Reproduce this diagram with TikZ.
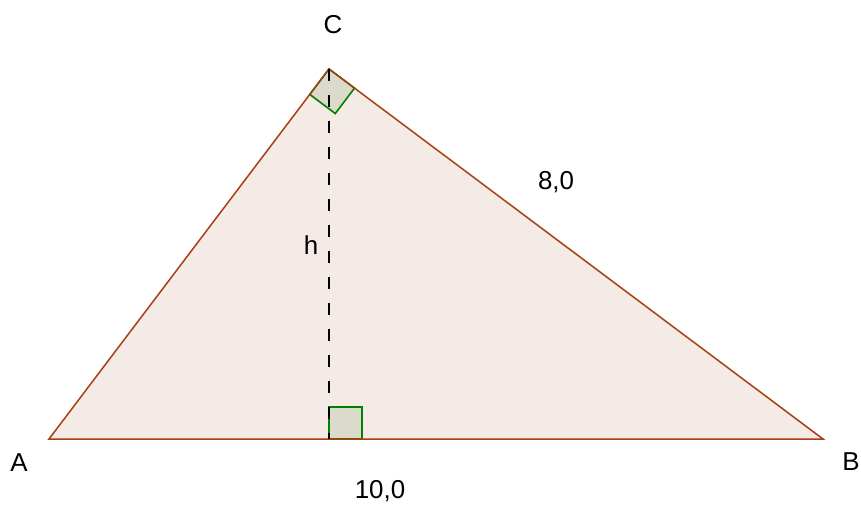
\documentclass[tikz,border=0pt]{standalone}
\usepackage{fontspec}
\setmainfont{Liberation Sans}
\usetikzlibrary{calc}
\definecolor{edgebrown}{RGB}{166,64,20}
\definecolor{trifill}{RGB}{244,234,230}
\definecolor{angfill}{RGB}{218,219,203}
\definecolor{anggreen}{RGB}{0,128,0}
\tikzset{
  lbl/.style={inner sep=0pt, font=\fontsize{26}{30}\selectfont},
  edge/.style={draw=edgebrown, line width=1.5bp, line join=miter},
  angmark/.style={fill=angfill, draw=anggreen, line width=1.6bp},
  height/.style={draw=black, line width=1.5bp, dash pattern=on 12bp off 14bp}
}
\begin{document}
\begin{tikzpicture}[x=1bp,y=-1bp]
\useasboundingbox (0,0) rectangle (861,507);
\coordinate (A) at (49,439);
\coordinate (B) at (823,439);
\coordinate (C) at (329,69);
\coordinate (H) at (329,439);
% fill
\fill[trifill] (A) -- (B) -- (C) -- cycle;
% right angle at C
\coordinate (Ca) at ($(C)!32pt!(A)$);
\coordinate (Cb) at ($(C)!32pt!(B)$);
\coordinate (Cc) at ($(Ca)+(Cb)-(C)$);
\draw[angmark] (C) -- (Ca) -- (Cc) -- (Cb) -- cycle;
% right angle at foot
\coordinate (Ha) at ($(H)+(0,-32)$);
\coordinate (Hb) at ($(H)+(33,0)$);
\coordinate (Hc) at ($(H)+(33,-32)$);
\draw[angmark] (H) -- (Ha) -- (Hc) -- (Hb) -- cycle;
% edges
\draw[edge] (A) -- (B) -- (C) -- cycle;
% height
\draw[height] (C) -- (H);
% labels
\node[lbl] (lA) at (19,463) {A};
\node[lbl] (lB) at (851,462) {B};
\node[lbl] (lC) at (333,25) {C};
\node[lbl] (lh) at (311,245) {h};
\node[lbl] (la) at (556,182) {8,0};
\node[lbl] (lc) at (380,491) {10,0};
\end{tikzpicture}
\end{document}
